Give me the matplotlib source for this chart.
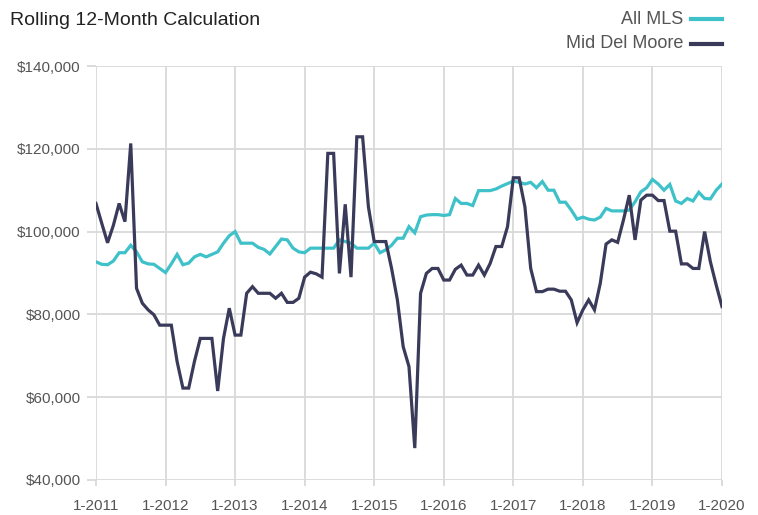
import numpy as np
import matplotlib.pyplot as plt
from matplotlib import font_manager

# Monthly rolling 12-month values, Jan 2011 .. Jan 2020 (109 points)
all_mls = [92.7, 92.1, 92.0, 92.9, 94.9, 94.9, 96.7, 95.1, 92.7, 92.2, 92.1, 91.1,
           90.1, 92.2, 94.5, 92.0, 92.4, 93.9, 94.5, 93.9, 94.5, 95.1, 97.2, 99.0,
           100.0, 97.2, 97.2, 97.2, 96.2, 95.7, 94.6, 96.4, 98.2, 98.0, 96.0, 95.1,
           94.9, 96.0, 96.0, 96.0, 96.0, 96.0, 98.0, 97.6, 97.2, 96.0, 96.0, 96.0,
           97.2, 94.9, 95.6, 96.7, 98.4, 98.4, 101.2, 99.7, 103.6, 104.0, 104.1, 104.1,
           103.9, 104.1, 108.0, 106.8, 106.8, 106.3, 109.9, 109.9, 109.9, 110.3, 111.0, 111.6,
           112.2, 111.9, 111.5, 111.9, 110.6, 112.1, 110.0, 110.0, 107.1, 107.1, 105.2, 103.0,
           103.5, 103.0, 102.8, 103.5, 105.6, 105.0, 105.0, 105.0, 105.2, 107.2, 109.6, 110.6,
           112.6, 111.5, 110.0, 111.4, 107.4, 106.8, 108.0, 107.4, 109.5, 108.0, 107.9, 110.0,
           111.5]
mid_del_moore = [106.8, 102.0, 97.3, 101.5, 106.8, 102.4, 121.3, 86.3, 82.7, 81.1, 79.9, 77.4,
                 77.4, 77.4, 68.6, 62.2, 62.2, 68.7, 74.2, 74.2, 74.2, 61.5, 74.2, 81.5,
                 75.0, 75.0, 85.1, 86.7, 85.1, 85.1, 85.1, 83.9, 85.1, 82.9, 82.9, 83.9,
                 89.0, 90.2, 89.8, 89.0, 118.9, 118.9, 89.9, 106.6, 89.0, 122.9, 122.9, 106.0,
                 97.6, 97.6, 97.6, 91.1, 83.5, 72.2, 67.4, 47.7, 85.1, 89.9, 91.1, 91.1,
                 88.3, 88.3, 90.9, 91.9, 89.5, 89.5, 91.9, 89.5, 92.3, 96.4, 96.4, 101.2,
                 113.0, 113.0, 106.0, 91.1, 85.5, 85.5, 86.1, 86.1, 85.6, 85.6, 83.5, 78.0,
                 81.1, 83.5, 81.1, 87.5, 97.0, 98.0, 97.4, 102.8, 108.8, 98.0, 107.6, 108.8,
                 108.8, 107.5, 107.5, 100.1, 100.1, 92.2, 92.2, 91.1, 91.1, 100.0, 92.7, 87.1,
                 81.9]
year_labels = ['1-2011', '1-2012', '1-2013', '1-2014', '1-2015', '1-2016',
               '1-2017', '1-2018', '1-2019', '1-2020']
y_ticks = [40000, 60000, 80000, 100000, 120000, 140000]

names = {f.name for f in font_manager.fontManager.ttflist}
font = 'Liberation Sans Narrow' if 'Liberation Sans Narrow' in names else 'Liberation Sans'
plt.rcParams['font.family'] = [font, 'DejaVu Sans']

teal = '#3ec1c9'
navy = '#3a3a5a'
grid_c = '#d9d9d9'
text_c = '#555555'

months = np.arange(len(all_mls))

fig = plt.figure(figsize=(7.58, 5.15), dpi=100)
ax = fig.add_axes([0.1266, 0.068, 0.8259, 0.8038])

ax.plot(months, np.array(all_mls) * 1000, color=teal, linewidth=2.3, solid_joinstyle='miter')
ax.plot(months, np.array(mid_del_moore) * 1000, color=navy, linewidth=2.3, solid_joinstyle='miter')

ax.set_xlim(0, 108)
ax.set_ylim(40000, 140000)
ax.set_xticks(np.arange(0, 109, 12))
ax.set_xticklabels(year_labels)
ax.set_yticks(y_ticks)
ax.set_yticklabels([f'${v:,}' for v in y_ticks])
ax.grid(True, color=grid_c, linewidth=1.3)
ax.set_axisbelow(True)
for s in ax.spines.values():
    s.set_visible(False)
ax.tick_params(axis='both', colors=grid_c, width=1.3, labelsize=11, labelcolor=text_c)
ax.tick_params(axis='y', length=6.5, pad=4.5)
ax.tick_params(axis='x', length=4.3, pad=9.5)

fig.text(0.013, 0.976, 'Rolling 12-Month Calculation', fontsize=14, color='#222222',
         ha='left', va='top')

# legend drawn manually to match right-aligned layout
for label, col, yy in [('All MLS', teal, 0.963), ('Mid Del Moore', navy, 0.915)]:
    fig.text(0.901, yy, label, fontsize=13, color=text_c, ha='right', va='center')
    fig.add_artist(plt.Line2D([0.911, 0.952], [yy, yy], color=col, linewidth=3,
                              transform=fig.transFigure))

fig.savefig('out.png', dpi=100)
